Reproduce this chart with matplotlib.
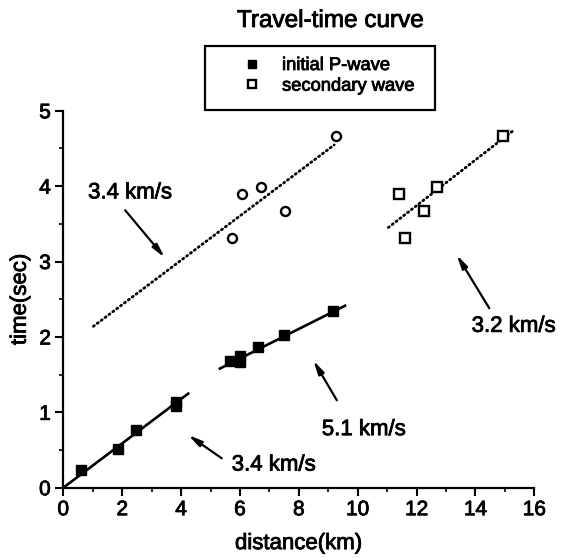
import numpy as np
import matplotlib.pyplot as plt
import matplotlib.patheffects as pe
from matplotlib.patches import Rectangle
from matplotlib.ticker import MultipleLocator

plt.rcParams['font.family'] = ['Liberation Sans', 'DejaVu Sans']

# initial P-wave arrivals
p_dist = [0.6, 1.87, 2.46, 3.82, 3.82, 5.66, 6.0, 6.0, 6.62, 7.5, 9.17]
p_time = [0.23, 0.51, 0.77, 1.08, 1.13, 1.68, 1.67, 1.75, 1.86, 2.02, 2.34]

# secondary arrivals (circles: near branch, squares: far branch)
s1_dist = [5.72, 6.06, 6.70, 7.54, 9.26]
s1_time = [3.31, 3.90, 3.99, 3.67, 4.66]
s2_dist = [11.6, 11.41, 12.68, 12.26, 14.94]
s2_time = [3.31, 3.90, 3.99, 3.67, 4.66]

# fitted lines: velocity (km/s), intercept (s), x range
fit_vel = [3.4, 5.1, 3.4, 3.3]
fit_icpt = [0.0, 0.537, 1.84, 0.105]
fit_x0 = [0.0, 5.32, 1.02, 11.04]
fit_x1 = [4.24, 9.57, 9.2, 15.28]
fit_style = ['solid', 'solid', 'dotted', 'dotted']

# annotations: label, text pos, arrow tail, arrow head
ann_text = ['3.4 km/s', '5.1 km/s', '3.4 km/s', '3.2 km/s']
ann_xy = [(0.84, 3.91), (8.78, 0.77), (5.72, 0.30), (13.87, 2.14)]
ann_tail = [(2.1, 3.68), (9.29, 1.16), (5.38, 0.39), (14.47, 2.38)]
ann_head = [(3.45, 3.05), (8.49, 1.69), (4.24, 0.70), (13.36, 3.09)]

heavy = [pe.withStroke(linewidth=0.6, foreground='black')]

W, H = 563, 558
fig = plt.figure(figsize=(W / 100, H / 100), dpi=100)
ax = fig.add_axes([0.1125, 0.126, 0.8366, 0.6756])

for v, b, x0, x1, st in zip(fit_vel, fit_icpt, fit_x0, fit_x1, fit_style):
    xs = np.array([x0, x1])
    ys = b + xs / v
    if st == 'solid':
        ax.plot(xs, ys, color='black', lw=1.9, zorder=2)
    else:
        ax.plot(xs, ys, color='black', lw=2.0, dashes=(0.45, 1.3),
                dash_capstyle='round', zorder=2)

ax.plot(p_dist, p_time, 's', color='black', ms=7.5, zorder=3, label='initial P-wave')
ax.plot(s1_dist, s1_time, 'o', mfc='white', mec='black', mew=1.7, ms=6.5, zorder=3)
ax.plot(s2_dist, s2_time, 's', mfc='white', mec='black', mew=1.7, ms=6.5, zorder=3,
        label='secondary wave')

for t, xy, tail, head in zip(ann_text, ann_xy, ann_tail, ann_head):
    ax.text(xy[0], xy[1], t, fontsize=16, va='center', ha='left', path_effects=heavy)
    ax.annotate('', xy=head, xytext=tail,
                arrowprops=dict(arrowstyle='-|>,head_length=0.8,head_width=0.18',
                                color='black', lw=1.6, shrinkA=0, shrinkB=0))

ax.set_xlim(0, 16)
ax.set_ylim(0, 5)
ax.xaxis.set_major_locator(MultipleLocator(2))
ax.xaxis.set_minor_locator(MultipleLocator(1))
ax.yaxis.set_major_locator(MultipleLocator(1))
ax.yaxis.set_minor_locator(MultipleLocator(0.5))
for s in ['top', 'right']:
    ax.spines[s].set_visible(False)
for s in ['left', 'bottom']:
    ax.spines[s].set_linewidth(1.6)
ax.tick_params(which='major', direction='out', length=6, width=1.5, labelsize=15, pad=3)
ax.tick_params(which='minor', direction='out', length=3, width=1.2)
for lab in ax.get_xticklabels() + ax.get_yticklabels():
    lab.set_path_effects(heavy)

ax.set_xlabel('distance(km)', fontsize=16, labelpad=10, path_effects=heavy)
ax.set_ylabel('time(sec)', fontsize=16, labelpad=6, path_effects=heavy)

fig.text(330 / W, 1 - 21 / H, 'Travel-time curve', fontsize=17.5, ha='center', va='center',
         path_effects=heavy)

# legend: entries without frame, box drawn separately
leg = fig.legend(loc='upper left', bbox_to_anchor=(234 / W, 1 - 57 / H), fontsize=13.2,
                 frameon=False, borderpad=0, borderaxespad=0,
                 handlelength=2.0, handletextpad=0.62, labelspacing=0.2, markerscale=0.85)
for lab in leg.get_texts():
    lab.set_path_effects(heavy)
fig.patches.append(Rectangle((205 / W, 1 - 110 / H), 230 / W, 64 / H,
                             transform=fig.transFigure, fill=False,
                             edgecolor='black', lw=1.6))

fig.savefig('out.png', dpi=100)
